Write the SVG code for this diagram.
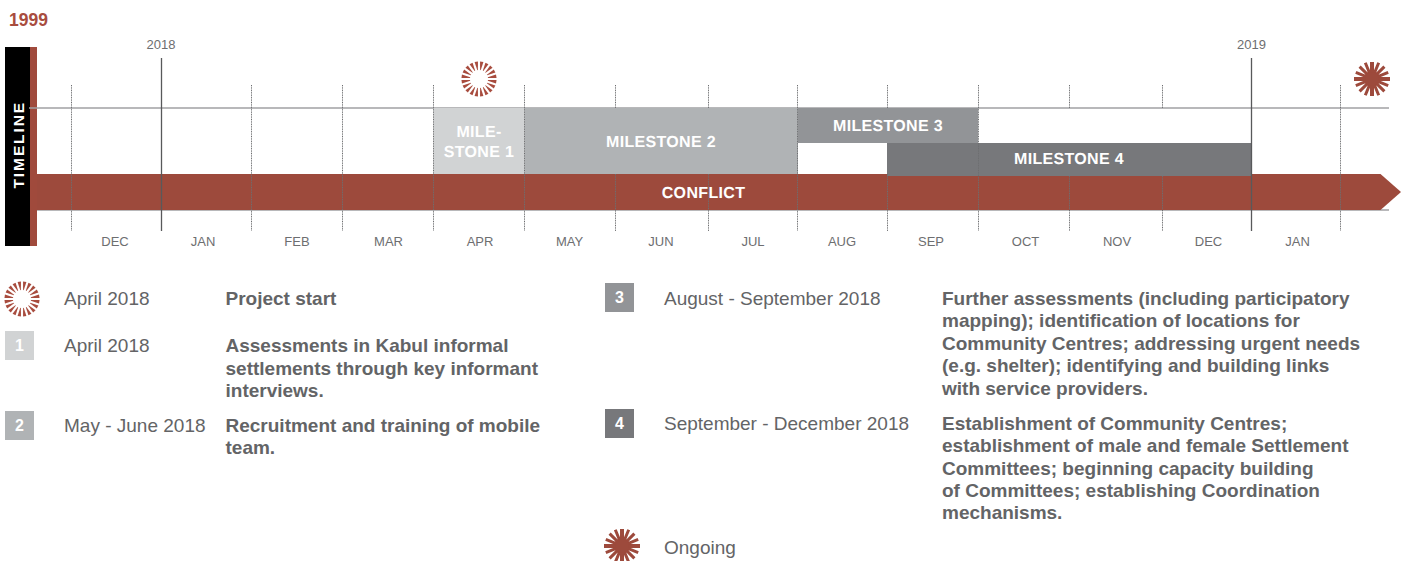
<svg xmlns="http://www.w3.org/2000/svg" width="1407" height="561" viewBox="0 0 1407 561">
<style>
text{font-family:"Liberation Sans",Arial,sans-serif;fill:#636466}
.m{font-size:13px;text-anchor:middle;fill:#6d6e70}
.b{font-size:19px;font-weight:700}
.t{font-size:19px}
.w{fill:#fff;font-weight:700;font-size:16px;letter-spacing:.33px;text-anchor:middle;text-rendering:geometricPrecision}
.n{fill:#fff;font-weight:700;font-size:16px;text-anchor:middle}
.d{stroke:#6d6e70;stroke-width:1;stroke-dasharray:1 .7;fill:none}
.s{stroke:#58595b;stroke-width:1.3;fill:none}
.h{stroke:#a0a1a3;stroke-width:1.6;fill:none}
.r{stroke:#9d4a3c;stroke-width:3;fill:none}
.c{stroke:#9d4a3c;stroke-width:4;fill:none}
</style>
<defs>
<polygon id="wedge" points="-0.3,-9 0.3,-9 1.7,-17.5 -1.7,-17.5" fill="#a84c3e"/>
<g id="open"><use href="#wedge" transform="rotate(9)"/><use href="#wedge" transform="rotate(27)"/><use href="#wedge" transform="rotate(45)"/><use href="#wedge" transform="rotate(63)"/><use href="#wedge" transform="rotate(81)"/><use href="#wedge" transform="rotate(99)"/><use href="#wedge" transform="rotate(117)"/><use href="#wedge" transform="rotate(135)"/><use href="#wedge" transform="rotate(153)"/><use href="#wedge" transform="rotate(171)"/><use href="#wedge" transform="rotate(189)"/><use href="#wedge" transform="rotate(207)"/><use href="#wedge" transform="rotate(225)"/><use href="#wedge" transform="rotate(243)"/><use href="#wedge" transform="rotate(261)"/><use href="#wedge" transform="rotate(279)"/><use href="#wedge" transform="rotate(297)"/><use href="#wedge" transform="rotate(315)"/><use href="#wedge" transform="rotate(333)"/><use href="#wedge" transform="rotate(351)"/></g>
<g id="full"><path class="c" d="M-18 0H18M0-17V17"/><path class="r" d="M-12.400-12.400L12.400 12.400M-12.400 12.400L12.400-12.400M-16.200-6.700L16.200 6.700M-16.200 6.700L16.200-6.700M-6.700-16.200L6.700 16.200M-6.700 16.200L6.700-16.200"/><circle r="7" fill="#9d4a3c"/></g>
</defs>
<text id="title" x="9" y="25.500" style="font-size:17.500px;font-weight:700;fill:#a84c3e">1999</text>
<g id="timeline-label">
<rect x="5" y="47" width="25" height="199" fill="#000"/>
<rect x="30" y="47" width="7" height="199" fill="#a04a3c"/>
<text transform="translate(23.500 188.500) rotate(-90)" style="fill:#fff;font-size:15.500px;font-weight:700;letter-spacing:1.9px">TIMELINE</text>
</g>
<g id="axis">
<path class="h" d="M29 108H1389"/>
<path class="h" d="M37 210H1389"/>
</g>
<g id="conflict"><path d="M37 174H1380.500L1401 192L1380.500 210H37Z" fill="#9d4a3c"/></g>
<g id="milestone-1"><rect x="433.500" y="108" width="91" height="66" fill="#d1d3d4"/><text class="w" x="479" y="137">MILE-</text><text class="w" x="479" y="156.500">STONE 1</text></g>
<g id="milestone-2"><rect x="524.500" y="108" width="273.500" height="66" fill="#b0b3b5"/><text class="w" x="661" y="147">MILESTONE 2</text></g>
<g id="milestone-3"><rect x="798" y="108" width="180" height="35" fill="#929497"/><text class="w" x="888" y="130.500">MILESTONE 3</text></g>
<g id="milestone-4"><rect x="887" y="143" width="364" height="33" fill="#77787b"/><text class="w" x="1069" y="163.500">MILESTONE 4</text></g>
<g id="connectors">
<path class="d" d="M71.500 85V231M251.500 85V231M342.500 85V231M433.500 85V231M524.500 85V231M615.500 85V108M615.500 174V231M708.500 85V108M708.500 174V231M797.500 85V231M887.500 85V108M887.500 174V231M978.500 85V231M1069.500 85V108M1069.500 176V231M1162.500 85V108M1162.500 176V231M1340.500 85V231"/>
<path class="s" d="M161.500 58V231M1251.500 58V231"/>
</g>
<text class="w" x="703.500" y="198">CONFLICT</text>
<g id="labels">
<text class="m" x="161" y="49">2018</text><text class="m" x="1251.500" y="49">2019</text>
<text class="m" x="115" y="246">DEC</text><text class="m" x="203" y="246">JAN</text><text class="m" x="297" y="246">FEB</text><text class="m" x="388.500" y="246">MAR</text><text class="m" x="480" y="246">APR</text><text class="m" x="569.500" y="246">MAY</text><text class="m" x="661" y="246">JUN</text><text class="m" x="753" y="246">JUL</text><text class="m" x="842" y="246">AUG</text><text class="m" x="931" y="246">SEP</text><text class="m" x="1025.500" y="246">OCT</text><text class="m" x="1117" y="246">NOV</text><text class="m" x="1208.500" y="246">DEC</text><text class="m" x="1297.500" y="246">JAN</text>
</g>
<g id="burst-open-top"><use href="#open" x="479" y="79"/></g>
<g id="burst-full-top"><use href="#full" x="1372" y="79"/></g>
<g id="legend-start"><use href="#open" x="22" y="299"/><text class="t" x="64" y="305">April 2018</text><text class="b" x="225.500" y="305">Project start</text></g>
<g id="legend-1"><rect x="5" y="331" width="29" height="29" fill="#d1d3d4"/><text class="n" x="19.500" y="351">1</text><text class="t" x="64" y="352">April 2018</text><text class="b" x="225.500" y="352">Assessments in Kabul informal</text><text class="b" x="225.500" y="375">settlements through key informant</text><text class="b" x="225.500" y="397">interviews.</text></g>
<g id="legend-2"><rect x="5" y="411" width="29" height="29" fill="#b0b3b5"/><text class="n" x="19.500" y="431">2</text><text class="t" x="64" y="432">May - June 2018</text><text class="b" x="225.500" y="432">Recruitment and training of mobile</text><text class="b" x="225.500" y="454">team.</text></g>
<g id="legend-3"><rect x="605" y="283" width="29" height="29" fill="#929497"/><text class="n" x="619.500" y="303">3</text><text class="t" x="664" y="305">August - September 2018</text><text class="b" x="942" y="305">Further assessments (including participatory</text><text class="b" x="942" y="327">mapping); identification of locations for</text><text class="b" x="942" y="350">Community Centres; addressing urgent needs</text><text class="b" x="942" y="372">(e.g. shelter); identifying and building links</text><text class="b" x="942" y="395">with service providers.</text></g>
<g id="legend-4"><rect x="605" y="409" width="29" height="29" fill="#77787b"/><text class="n" x="619.500" y="429">4</text><text class="t" x="664" y="430">September - December 2018</text><text class="b" x="942" y="430">Establishment of Community Centres;</text><text class="b" x="942" y="452">establishment of male and female Settlement</text><text class="b" x="942" y="475">Committees; beginning capacity building</text><text class="b" x="942" y="497">of Committees; establishing Coordination</text><text class="b" x="942" y="519">mechanisms.</text></g>
<g id="legend-ongoing"><use href="#full" x="622" y="546"/><text class="t" x="664" y="554">Ongoing</text></g>
</svg>
